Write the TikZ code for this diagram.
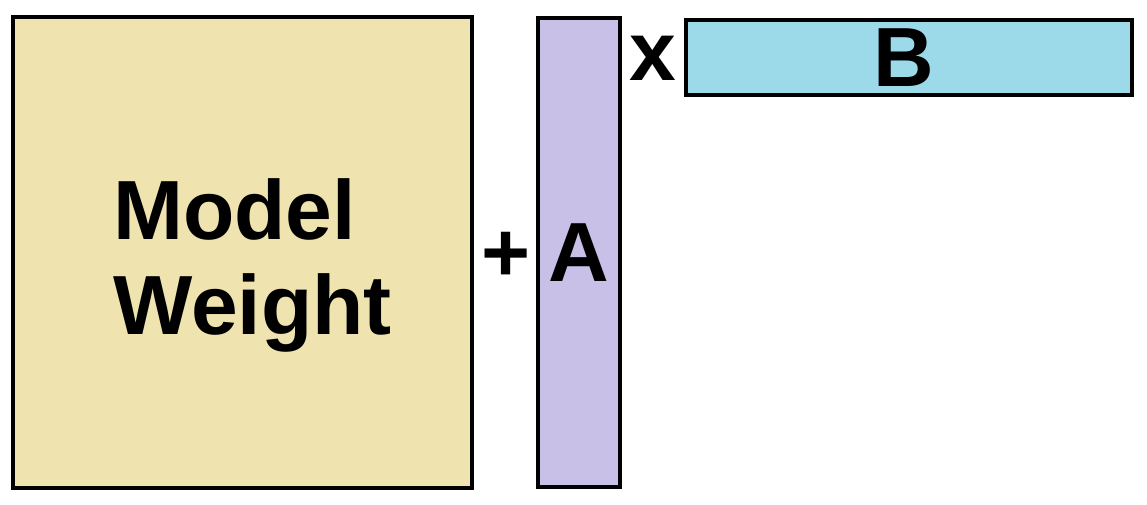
\documentclass[tikz,border=0pt]{standalone}
\usepackage{fontspec}
\setmainfont{Liberation Sans}
\usepackage{tikz}
\usetikzlibrary{positioning}
\definecolor{weightcol}{HTML}{EFE3AF}
\definecolor{acol}{HTML}{C8C0E6}
\definecolor{bcol}{HTML}{9CDAEA}
\tikzset{
         mybox/.style={draw, line width=4pt, inner sep=0pt, font=\fontsize{84}{95}\selectfont\bfseries},
         mysign/.style={draw=none, inner sep=0pt, font=\fontsize{84}{95}\selectfont\bfseries},
         mytext/.style={draw=none, inner sep=0pt, align=left, font=\fontsize{84}{95}\selectfont\bfseries}
      }
\begin{document}
\begin{tikzpicture}[x=1pt,y=-1pt]
   \useasboundingbox (0,0) rectangle (1147,505);
   \node[mybox, fill=weightcol, minimum width=459pt, minimum height=471pt] (weight) at (242.5,252.5) {};
   \node[mytext] (weighttext) at ([xshift=10pt,yshift=-13pt]weight.center) {Model\\Weight};
   \node[mybox, fill=acol, minimum width=82pt, minimum height=468pt] (abox) at (579,252.5) {A};
   \node[mybox, fill=bcol, minimum width=446pt, minimum height=75pt] (bbox) at (909,58) {};
   \node[mysign] (btext) at ([xshift=-5pt]bbox.center) {B};
   \node[mysign, right=7pt of weight, yshift=-4pt] (plus) {+};
   \node[mysign, left=7.5pt of bbox] (times) {x};
\end{tikzpicture}
\end{document}
